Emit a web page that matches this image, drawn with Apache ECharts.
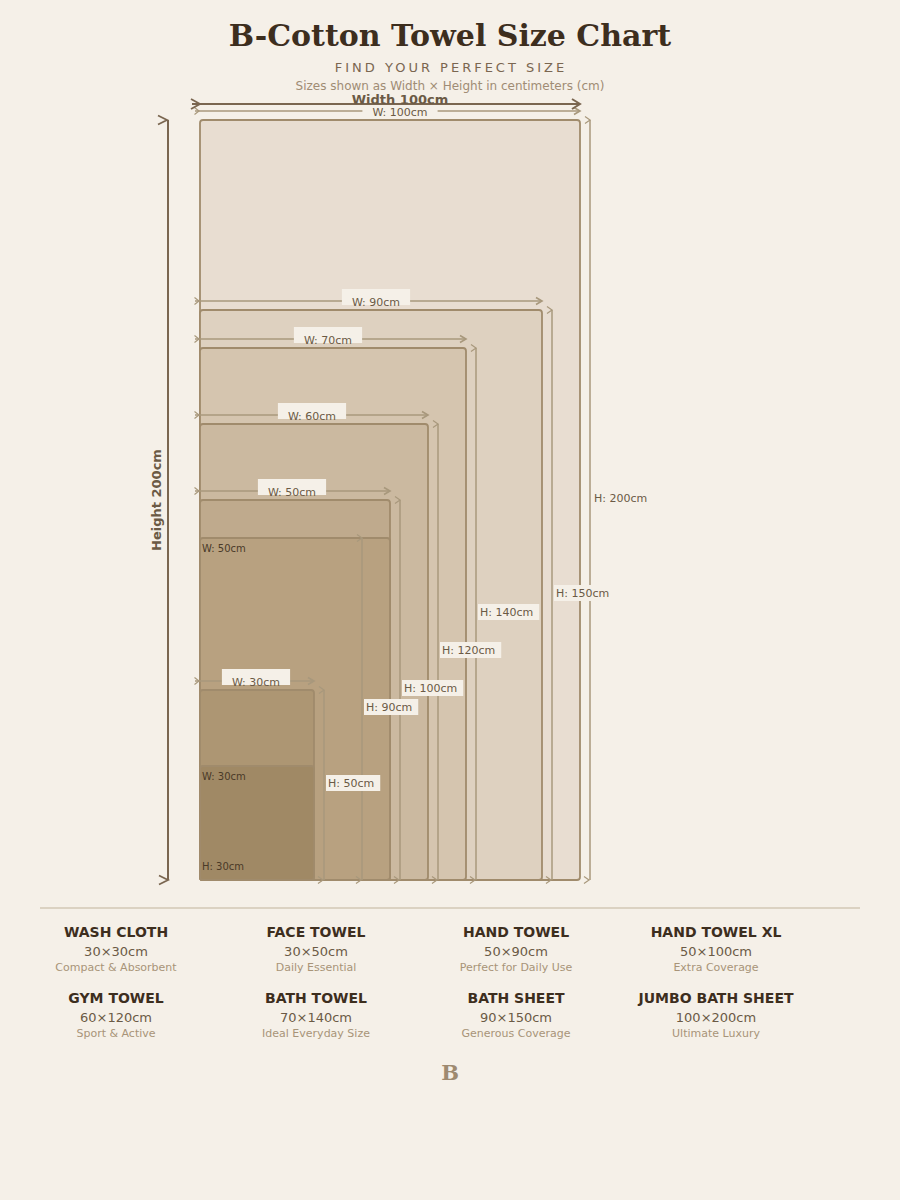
<!DOCTYPE html>
<html>
<head>
<meta charset="utf-8">
<script src="https://cdn.jsdelivr.net/npm/echarts@6/dist/echarts.min.js"></script>
<style>
html,body{margin:0;padding:0;background:#f5f0e8;}
#chart{width:900px;height:1200px;}
</style>
</head>
<body>
<div id="chart"></div>
<script>
// ---------- DATA ----------
const towelNames = ['WASH CLOTH','FACE TOWEL','HAND TOWEL','HAND TOWEL XL','GYM TOWEL','BATH TOWEL','BATH SHEET','JUMBO BATH SHEET'];
const widthsCm  = [30, 30, 50, 50, 60, 70, 90, 100];
const heightsCm = [30, 50, 90, 100, 120, 140, 150, 200];
const taglines  = ['Compact & Absorbent','Daily Essential','Perfect for Daily Use','Extra Coverage','Sport & Active','Ideal Everyday Size','Generous Coverage','Ultimate Luxury'];
const maxWidthCm = 100;
const maxHeightCm = 200;
const titleText = 'B-Cotton Towel Size Chart';
const subtitleText = 'FIND YOUR PERFECT SIZE';
const noteText = 'Sizes shown as Width \u00d7 Height in centimeters (cm)';
const footerMark = 'B';

// ---------- STYLE ----------
const FILLS = ['#a08965','#ad9673','#b8a180','#bfaa8d','#cbb9a0','#d5c5af','#ded1c0','#e8ddd1'];
// how labels are shown: 'out' = dimension lines, 'inW' = width inside, 'inWH' = both inside
const LABEL_MODE = ['inWH','out','inW','out','out','out','out','out'];
const H_LINE_SHIFT = [0,0,-38,0,0,0,0,0];
const W_LABEL_NUDGE = [0,-1,0,-3,-2,-5,5,10];
const BG = '#f5f0e8';
const DIM = '#a8987c';
const RECT_STROKE = '#a08b6c';
const SANS = "'DejaVu Sans', sans-serif";
const SERIF = "'DejaVu Serif', serif";

const mctx = document.createElement('canvas').getContext('2d');
function textW(t, font){ mctx.font = font; return mctx.measureText(t).width; }

function chev(x, y, s, h, color, lw){
  return {type:'polyline', shape:{points:[[x - s, y - h],[x, y],[x - s, y + h]]},
    style:{stroke:color, fill:null, lineWidth:lw}};
}

const drawOrder = [7,6,5,4,3,2,1,0];

function renderTowel(params, api){
  const w = api.value(0), h = api.value(1), i = api.value(2);
  const p0 = api.coord([0, 0]), p1 = api.coord([w, h]);
  const left = p0[0], bottom = p0[1], right = p1[0], top = p1[1];
  const ch = [];
  ch.push({type:'rect', shape:{x:left, y:top, width:right - left, height:bottom - top, r:3},
    style:{fill:FILLS[i], stroke:RECT_STROKE, lineWidth:1.8}});
  const mode = LABEL_MODE[i];
  const lblFont = '11px ' + SANS;
  if (mode === 'out') {
    const ly = top - 9;
    ch.push({type:'line', shape:{x1:left - 5, y1:ly, x2:right, y2:ly}, style:{stroke:DIM, lineWidth:1.5}});
    ch.push(chev(left - 1, ly, 4.5, 3.5, DIM, 1.2));
    ch.push(chev(right, ly, 6, 3.5, DIM, 1.6));
    const wt = 'W: ' + w + 'cm';
    const tw = textW(wt, lblFont);
    const cx = (left + right) / 2 + W_LABEL_NUDGE[i];
    ch.push({type:'rect', shape:{x:cx - tw/2 - 10, y:ly - 12, width:tw + 20, height:16}, style:{fill:BG}});
    ch.push({type:'text', style:{text:wt, x:cx, y:ly + 1, align:'center', verticalAlign:'middle', font:lblFont, fill:'#6b5a45'}});
  } else {
    ch.push({type:'text', style:{text:'W: ' + w + 'cm', x:left + 2, y:top + 10, align:'left', verticalAlign:'middle', font:'10px ' + SANS, fill:'#4a3a28'}});
  }
  if (mode === 'out' || mode === 'inW') {
    const lx = right + 10 + H_LINE_SHIFT[i];
    ch.push({type:'line', shape:{x1:lx, y1:top, x2:lx, y2:bottom}, style:{stroke:DIM, lineWidth:1.5}});
    ch.push(chev(lx, top, 5, 3.5, DIM, 1.2));
    ch.push(chev(lx - 1, bottom, 5, 3.5, DIM, 1.2));
    const ht = 'H: ' + h + 'cm';
    const tw = textW(ht, lblFont);
    const my = (top + bottom) / 2;
    ch.push({type:'rect', shape:{x:lx + 2, y:my - 10, width:tw + 8, height:16}, style:{fill:BG}});
    ch.push({type:'text', style:{text:ht, x:lx + 4, y:my - 2, align:'left', verticalAlign:'middle', font:lblFont, fill:'#6b5a45'}});
  } else {
    ch.push({type:'text', style:{text:'H: ' + h + 'cm', x:left + 2, y:bottom - 14, align:'left', verticalAlign:'middle', font:'10px ' + SANS, fill:'#4a3a28'}});
  }
  return {type:'group', children:ch};
}

function renderFrame(params, api){
  const W = api.value(0), H = api.value(1);
  const p0 = api.coord([0, 0]), p1 = api.coord([W, H]);
  const left = p0[0], bottom = p0[1], right = p1[0], top = p1[1];
  const C = '#7a6650';
  const ch = [];
  const wy = top - 16;
  ch.push({type:'line', shape:{x1:left - 8, y1:wy, x2:right, y2:wy}, style:{stroke:C, lineWidth:2}});
  ch.push(chev(left, wy, 9, 5, C, 1.8));
  ch.push(chev(right, wy, 8, 5, C, 2));
  ch.push({type:'text', style:{text:'Width ' + W + 'cm', x:(left + right) / 2 + 10, y:wy - 5, align:'center', verticalAlign:'middle', font:'bold 13px ' + SANS, fill:'#6b5a45'}});
  const hx = left - 32;
  ch.push({type:'line', shape:{x1:hx, y1:top, x2:hx, y2:bottom}, style:{stroke:C, lineWidth:2}});
  ch.push(chev(hx - 1, top, 9, 4.5, C, 1.8));
  ch.push(chev(hx, bottom, 9, 4.5, C, 1.8));
  ch.push({type:'text', x:hx - 12, y:(top + bottom) / 2, rotation:Math.PI / 2,
    style:{text:'Height ' + H + 'cm', x:0, y:0, align:'center', verticalAlign:'middle', font:'bold 13px ' + SANS, fill:'#6b5a45'}});
  return {type:'group', children:ch};
}

const graphics = [
  {type:'text', x:450, y:35, style:{text:titleText, align:'center', verticalAlign:'middle', font:'bold 30px ' + SERIF, fill:'#3d2e1e'}},
  {type:'text', x:451, y:67, style:{text:subtitleText, align:'center', verticalAlign:'middle', font:'13px ' + SANS, fill:'#7a6650'}},
  {type:'text', x:450, y:86, style:{text:noteText, align:'center', verticalAlign:'middle', font:'12px ' + SANS, fill:'#a08c74'}},
  {type:'line', shape:{x1:40, y1:908, x2:860, y2:908}, style:{stroke:'#d2c8b6', lineWidth:1.5}},
  {type:'text', x:450, y:1072, style:{text:footerMark, align:'center', verticalAlign:'middle', font:'bold 21px ' + SERIF, fill:'#9e8a70'}}
];
towelNames.forEach((name, i) => {
  const col = i % 4, row = Math.floor(i / 4);
  const x = 116 + col * 200, y0 = 932 + row * 66;
  graphics.push({type:'text', x:x, y:y0, style:{text:name, align:'center', verticalAlign:'middle', font:'bold 14px ' + SANS, fill:'#3d2e1e'}});
  graphics.push({type:'text', x:x, y:y0 + 19, style:{text:widthsCm[i] + '\u00d7' + heightsCm[i] + 'cm', align:'center', verticalAlign:'middle', font:'13px ' + SANS, fill:'#6b5a45'}});
  graphics.push({type:'text', x:x, y:y0 + 35, style:{text:taglines[i], align:'center', verticalAlign:'middle', font:'11px ' + SANS, fill:'#a89478'}});
});

const chart = echarts.init(document.getElementById('chart'), null, {renderer:'svg'});
chart.setOption({
  backgroundColor: BG,
  animation: false,
  grid: {left:200, top:120, width:380, height:760},
  xAxis: {type:'value', min:0, max:maxWidthCm, show:false},
  yAxis: {type:'value', min:0, max:maxHeightCm, show:false},
  graphic: {elements: graphics},
  series: [
    {type:'custom', coordinateSystem:'cartesian2d', clip:false, silent:true,
     data: drawOrder.map(i => [widthsCm[i], heightsCm[i], i]),
     encode:{x:0, y:1}, renderItem: renderTowel},
    {type:'custom', coordinateSystem:'cartesian2d', clip:false, silent:true,
     data: [[maxWidthCm, maxHeightCm]], encode:{x:0, y:1}, renderItem: renderFrame}
  ]
});

// letter-spaced subtitle (applied to the SVG text node)
function spaceSubtitle(){
  document.querySelectorAll('#chart text').forEach(t => {
    if (t.textContent === subtitleText) t.style.letterSpacing = '3px';
  });
}
try { chart.getZr().flush(); } catch(e) {}
spaceSubtitle();
chart.on('finished', spaceSubtitle);
</script>
</body>
</html>
